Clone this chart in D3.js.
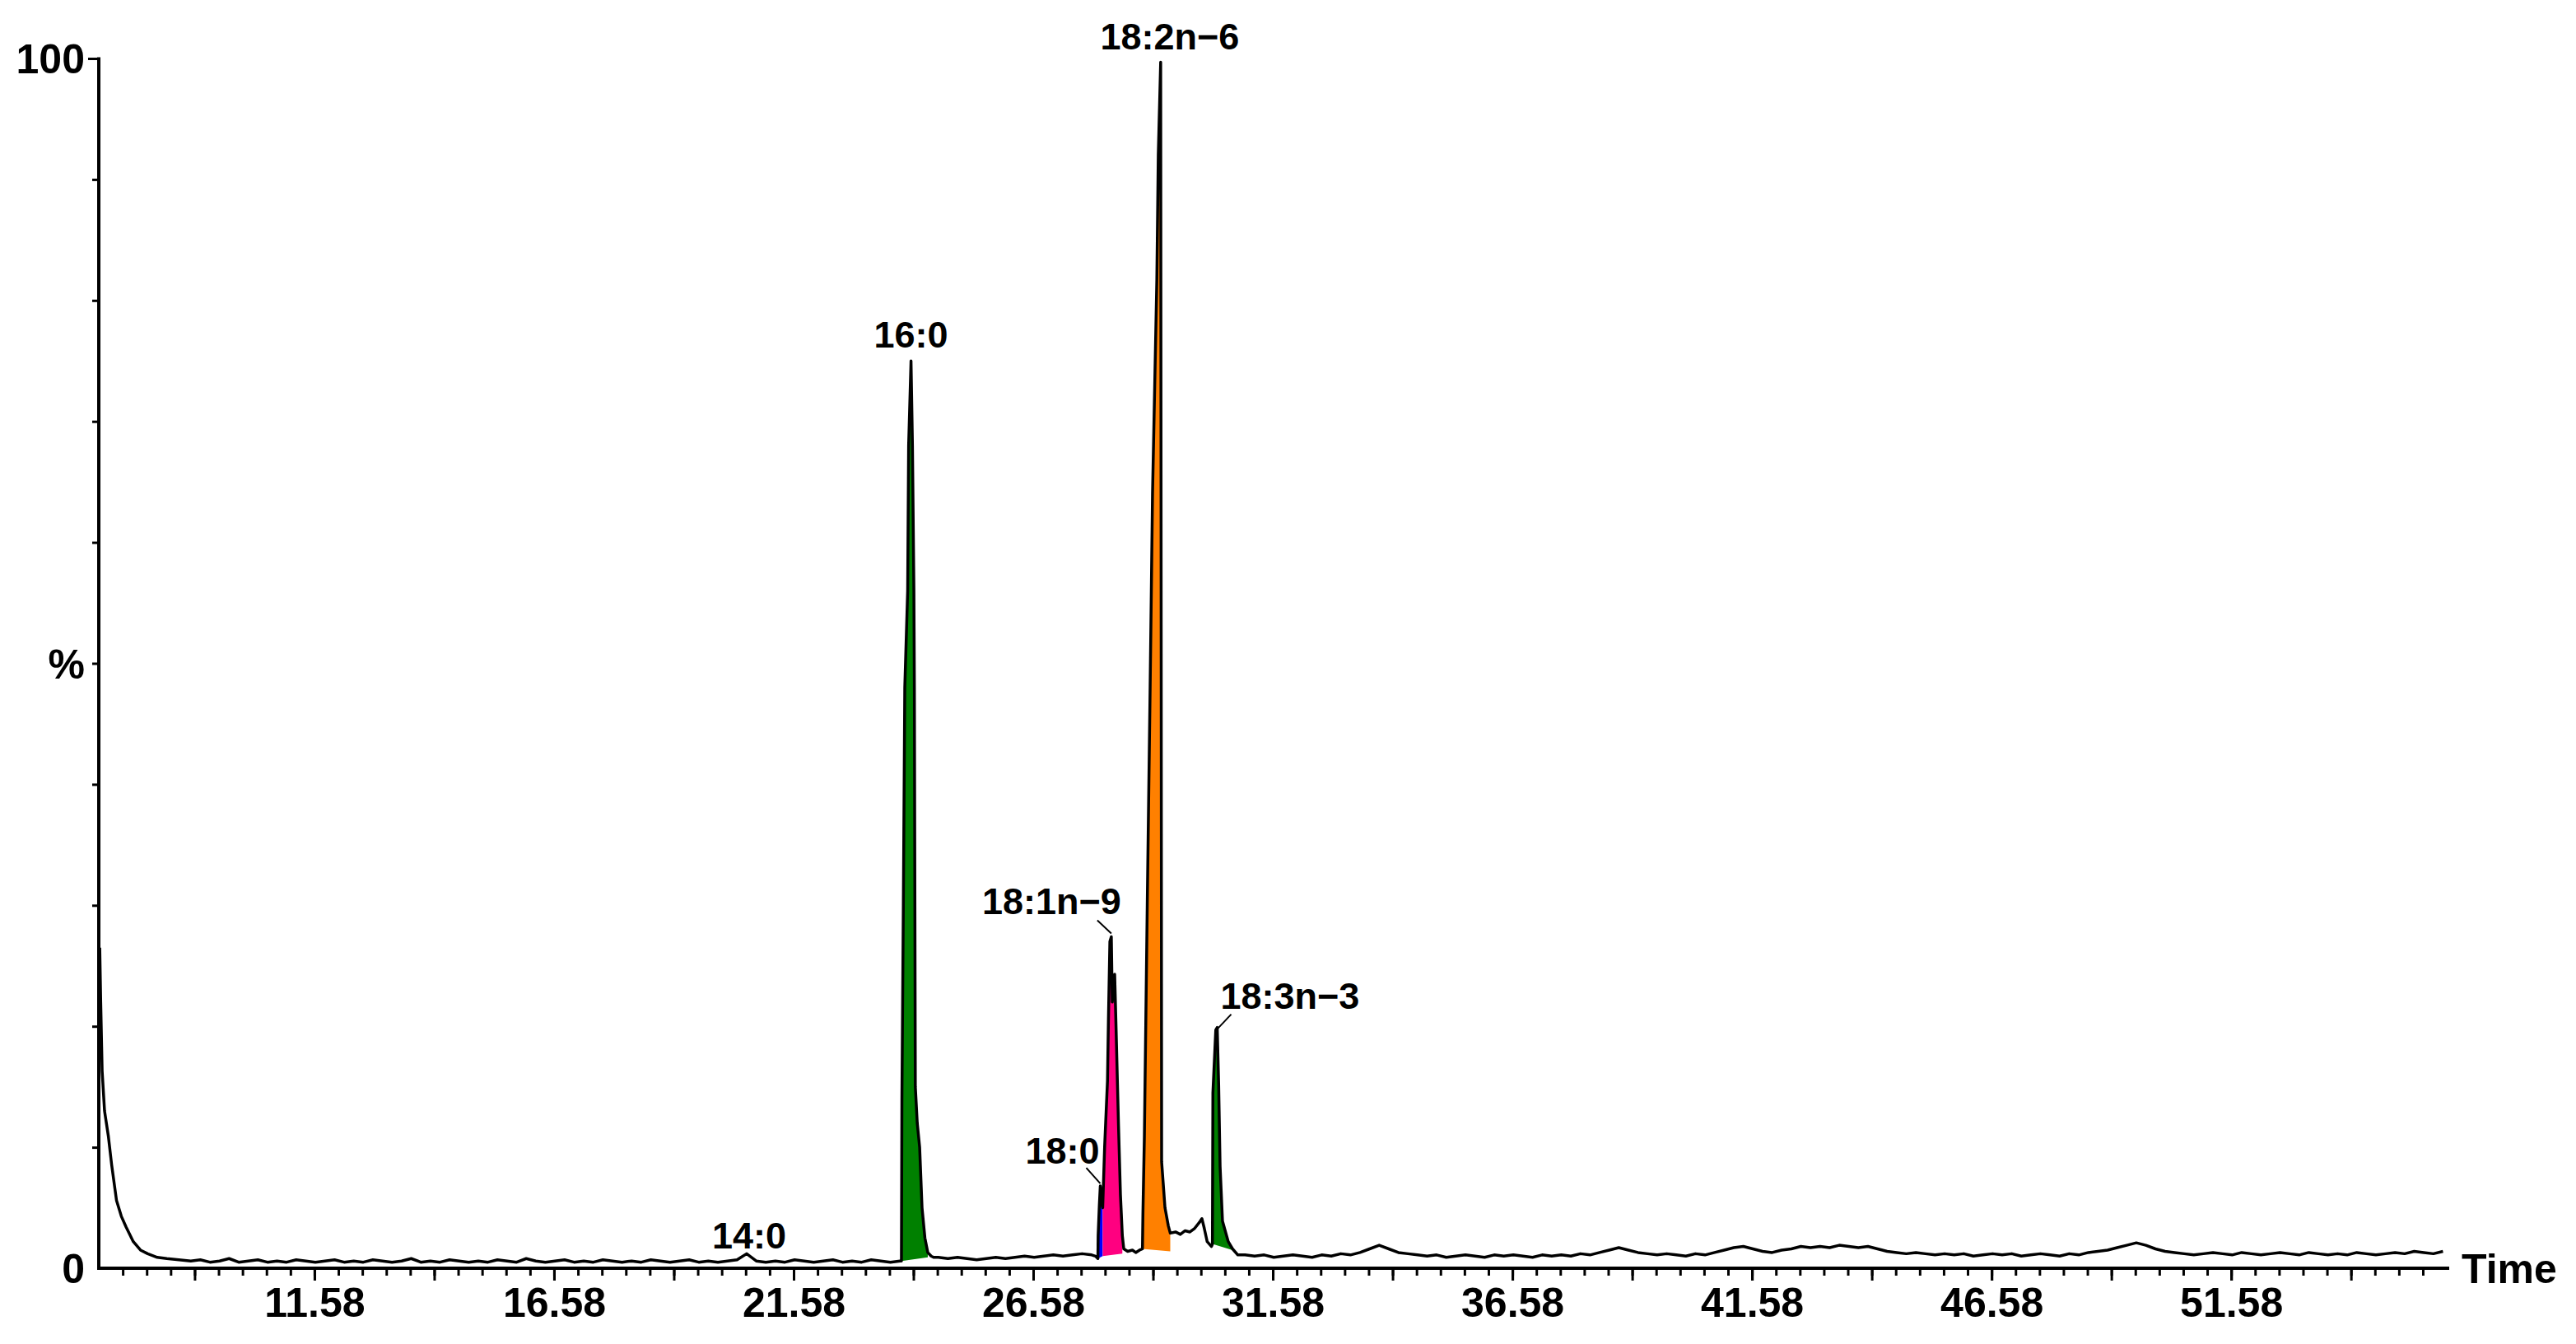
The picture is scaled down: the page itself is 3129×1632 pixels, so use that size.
<!DOCTYPE html>
<html>
<head>
<meta charset="utf-8">
<script src="https://cdn.jsdelivr.net/npm/d3@7/dist/d3.min.js"></script>
<style>
    body { margin: 0; background: #fff; }
    svg { display: block; }
</style>
</head>
<body>
<div id="chart"></div>
<script>
// ---- data (time in min, signal in % of the largest peak) ----
var decayTimes  = [7.10, 7.12, 7.15, 7.20, 7.28, 7.35, 7.45, 7.55, 7.65, 7.80, 7.95, 8.10, 8.30, 8.50, 8.75];
var decayValues = [26.5, 22, 16.3, 13, 10.9, 8.5, 5.6, 4.3, 3.4, 2.2, 1.5, 1.2, 0.9, 0.8, 0.7];

// baseline stretches, one reading every 0.2 min
var baselineStarts = [9.0, 24.6, 31.0];
var baselineStep = 0.2;
var baselineA = [0.6,0.7,0.5,0.6,0.8,0.5,0.6,0.7,0.5,0.6,
                 0.5,0.7,0.6,0.5,0.6,0.7,0.5,0.6,0.5,0.7,
                 0.6,0.5,0.6,0.8,0.5,0.6,0.5,0.7,0.6,0.5,
                 0.6,0.5,0.7,0.6,0.5,0.8,0.6,0.5,0.6,0.7,
                 0.5,0.6,0.5,0.7,0.6,0.5,0.6,0.5,0.7,0.6,
                 0.5,0.6,0.7,0.5,0.6,0.5,0.6,0.7,1.2,0.6,
                 0.5,0.6,0.5,0.7,0.6,0.5,0.6,0.7,0.5,0.6,
                 0.5,0.7,0.6,0.5,0.6];
var baselineB = [0.9,0.8,0.9,0.8,0.7,0.8,0.9,0.8,0.9,1.0,0.9,1.0,1.1,1.0,1.1,1.2,1.1];
var baselineC = [1.1,1.0,1.1,0.9,1.0,1.1,1.0,0.9,1.1,1.0,
                 1.2,1.1,1.3,1.6,1.9,1.6,1.3,1.2,1.1,1.0,
                 1.1,0.9,1.0,1.1,1.0,0.9,1.1,1.0,1.1,1.0,
                 0.9,1.1,1.0,1.1,1.0,1.2,1.1,1.3,1.5,1.7,
                 1.5,1.3,1.2,1.1,1.2,1.1,1.0,1.2,1.1,1.3,
                 1.5,1.7,1.8,1.6,1.4,1.3,1.5,1.6,1.8,1.7,
                 1.8,1.7,1.9,1.8,1.7,1.8,1.6,1.4,1.3,1.2,
                 1.3,1.2,1.1,1.2,1.1,1.2,1.0,1.1,1.2,1.1,
                 1.2,1.0,1.1,1.2,1.1,1.0,1.2,1.1,1.3,1.4,
                 1.5,1.7,1.9,2.1,1.9,1.6,1.4,1.3,1.2,1.1,
                 1.2,1.3,1.2,1.1,1.3,1.2,1.1,1.2,1.3,1.2,
                 1.1,1.3,1.2,1.1,1.2,1.1,1.3,1.2,1.1,1.2,
                 1.3,1.2,1.4,1.3,1.2,1.4];

// peak regions, [time, signal]
var trace160 = [[23.83,0.6],[23.84,14],[23.87,30],[23.90,48],[23.96,56],[23.98,68],[24.03,75],
                [24.06,68],[24.09,56],[24.10,48],[24.12,15],[24.16,12],[24.21,10],[24.26,5],
                [24.32,2.5],[24.38,1.3],[24.45,1.0],[24.50,0.9]];
var trace180 = [[27.88,1.0],[27.93,0.8],[27.935,2.7],[27.96,5.2],[27.98,6.8],[28.01,5.3],[28.03,5.0],
                [28.07,10],[28.13,15.5],[28.15,20.6],[28.18,27],[28.21,27.4],[28.23,22],[28.26,23.5],
                [28.28,24.3],[28.31,19.7],[28.36,11.8],[28.40,6.1],[28.44,2.7],[28.47,1.6],
                [28.55,1.4],[28.65,1.5],[28.72,1.3]];
var trace182 = [[28.80,1.5],[28.86,1.6],[28.87,4.6],[28.90,10.9],[28.96,30],[29.02,48],[29.07,64],
                [29.16,81.7],[29.19,92],[29.24,99.7],[29.26,8.8],[29.33,5.0],[29.40,3.5],[29.44,2.9],
                [29.55,3.0],[29.65,2.8],[29.75,3.1],[29.85,3.0],[29.95,3.3],[30.05,3.8],[30.10,4.1],
                [30.15,3.3],[30.21,2.2],[30.30,1.8]];
var trace183 = [[30.32,2.0],[30.33,14.5],[30.39,19.7],[30.42,19.9],[30.45,15.2],[30.48,8.4],
                [30.53,3.9],[30.65,2.2],[30.74,1.6],[30.85,1.1]];

// integrated peaks (14:0 too small to show a fill)
var peakNames      = ["14:0", "16:0", "18:0", "18:1n\u22129", "18:2n\u22126", "18:3n\u22123"];
var peakColours    = [null, "#008000", "#0000ff", "#ff0080", "#ff8000", "#008000"];
var peakStart      = [20.4, 23.83, 27.93, 28.03, 28.86, 30.32];
var peakEnd        = [20.8, 24.38, 28.03, 28.44, 29.44, 30.74];
var peakBaseStart  = [0.5, 0.6, 0.8, 1.0, 1.6, 2.0];
var peakBaseEnd    = [0.5, 0.9, 1.0, 1.2, 1.4, 1.5];
var peakApexTime   = [20.6, 24.03, 27.98, 28.21, 29.24, 30.42];
var peakApexValue  = [1.2, 75, 6.8, 27.4, 99.7, 19.9];

var xTickLabels = ["11.58", "16.58", "21.58", "26.58", "31.58", "36.58", "41.58", "46.58", "51.58"];
var yTickValues = [0, 50, 100];
var yTickLabels = ["0", "%", "100"];
var xTitle = "Time";

// ---- layout ----
var width = 3129, height = 1632;
var font = "'Liberation Sans', Arial, Helvetica, sans-serif";

// label placement relative to each apex (px)
var labelLayout = {
    "14:0":          { anchor: "middle", dx: 3,  dy: -6 },
    "16:0":          { anchor: "middle", dx: 0,  dy: -16 },
    "18:0":          { anchor: "end",    dx: -1, dy: -27, leader: [[-17, -22], [0, -3]] },
    "18:1n\u22129":  { anchor: "end",    dx: 12, dy: -27, leader: [[-17, -20], [0, -4]] },
    "18:2n\u22126":  { anchor: "middle", dx: 11, dy: -15 },
    "18:3n\u22123":  { anchor: "start",  dx: 4,  dy: -23, leader: [[17, -16], [0, 2]] }
};

function stretch(start, values){
    return values.map(function(v, i){ return [+(start + i * baselineStep).toFixed(2), v]; });
}

var trace = []
    .concat(decayTimes.map(function(t, i){ return [t, decayValues[i]]; }))
    .concat(stretch(baselineStarts[0], baselineA))
    .concat(trace160)
    .concat(stretch(baselineStarts[1], baselineB))
    .concat(trace180)
    .concat(trace182)
    .concat(trace183)
    .concat(stretch(baselineStarts[2], baselineC));

var x = d3.scaleLinear().domain([7.08, 56.13]).range([120, 2975]);
var y = d3.scaleLinear().domain([0, 100]).range([1540, 71]);

var svg = d3.select("#chart")
        .append("svg")
        .attr("width", width)
        .attr("height", height)
        .style("background", "#fff");

var line = d3.line()
        .x(function(d){ return x(d[0]); })
        .y(function(d){ return y(d[1]); });

// coloured integration areas
peakNames.forEach(function(name, i){
    if (!peakColours[i]) return;
    var pts = trace.filter(function(d){ return d[0] >= peakStart[i] - 1e-6 && d[0] <= peakEnd[i] + 1e-6; });
    var poly = [[peakStart[i], peakBaseStart[i]]].concat(pts).concat([[peakEnd[i], peakBaseEnd[i]]]);
    svg.append("path")
            .attr("d", line(poly) + "Z")
            .attr("fill", peakColours[i])
            .attr("stroke", "none");
});

// chromatogram trace
svg.append("path")
        .datum(trace)
        .attr("d", line)
        .attr("fill", "none")
        .attr("stroke", "#000")
        .attr("stroke-width", 3.5)
        .attr("stroke-linejoin", "round");

// ---- axes ----
var minorTicks = d3.range(0, 97).map(function(i){ return +(7.58 + i * 0.5).toFixed(2); });
var majorTicks = d3.range(0, 19).map(function(i){ return +(9.08 + i * 2.5).toFixed(2); });

function styleAxis(g){
    g.select(".domain").remove();
    g.selectAll("line").attr("stroke", "#000").attr("stroke-width", 3);
    g.selectAll("text")
            .attr("fill", "#000")
            .style("font-family", font)
            .style("font-weight", "bold")
            .style("font-size", "50px");
}

svg.append("g")
        .attr("transform", "translate(0," + y(0) + ")")
        .call(d3.axisBottom(x).tickValues(minorTicks).tickSize(9).tickFormat(""))
        .call(styleAxis);

svg.append("g")
        .attr("transform", "translate(0," + y(0) + ")")
        .call(d3.axisBottom(x).tickValues(majorTicks).tickSize(15).tickFormat(""))
        .call(styleAxis);

svg.append("g")
        .attr("transform", "translate(0," + y(0) + ")")
        .call(d3.axisBottom(x)
                .tickValues(xTickLabels.map(Number))
                .tickSize(15)
                .tickPadding(8)
                .tickFormat(function(d, i){ return xTickLabels[i]; }))
        .call(styleAxis);

svg.append("g")
        .attr("transform", "translate(" + x.range()[0] + ",0)")
        .call(d3.axisLeft(y).tickValues(d3.range(10, 100, 10)).tickSize(8).tickFormat(""))
        .call(styleAxis);

svg.append("g")
        .attr("transform", "translate(" + x.range()[0] + ",0)")
        .call(d3.axisLeft(y).tickValues([100]).tickSize(13).tickFormat(""))
        .call(styleAxis);

// axis lines
svg.append("line")
        .attr("x1", x.range()[0]).attr("x2", x.range()[1])
        .attr("y1", y(0)).attr("y2", y(0))
        .attr("stroke", "#000").attr("stroke-width", 4);
svg.append("line")
        .attr("x1", x.range()[0]).attr("x2", x.range()[0])
        .attr("y1", y(100) - 1.5).attr("y2", y(0) + 2)
        .attr("stroke", "#000").attr("stroke-width", 4);

svg.selectAll("ylab")
        .data(yTickValues)
        .enter()
        .append("text")
        .attr("x", x.range()[0] - 17)
        .attr("y", function(d){ return y(d); })
        .attr("dy", "0.36em")
        .attr("text-anchor", "end")
        .style("font-family", font)
        .style("font-weight", "bold")
        .style("font-size", "50px")
        .text(function(d, i){ return yTickLabels[i]; });

svg.append("text")
        .attr("x", x.range()[1] + 15)
        .attr("y", y(0))
        .attr("dy", "0.36em")
        .style("font-family", font)
        .style("font-weight", "bold")
        .style("font-size", "50px")
        .text(xTitle);

// ---- peak labels ----
peakNames.forEach(function(name, i){
    var lay = labelLayout[name];
    var ax = x(peakApexTime[i]), ay = y(peakApexValue[i]);
    svg.append("text")
            .attr("x", ax + lay.dx)
            .attr("y", ay + lay.dy)
            .attr("text-anchor", lay.anchor)
            .style("font-family", font)
            .style("font-weight", "bold")
            .style("font-size", "45px")
            .text(name);
    if (lay.leader){
        svg.append("line")
                .attr("x1", ax + lay.leader[0][0]).attr("y1", ay + lay.leader[0][1])
                .attr("x2", ax + lay.leader[1][0]).attr("y2", ay + lay.leader[1][1])
                .attr("stroke", "#000")
                .attr("stroke-width", 2);
    }
});
</script>
</body>
</html>
